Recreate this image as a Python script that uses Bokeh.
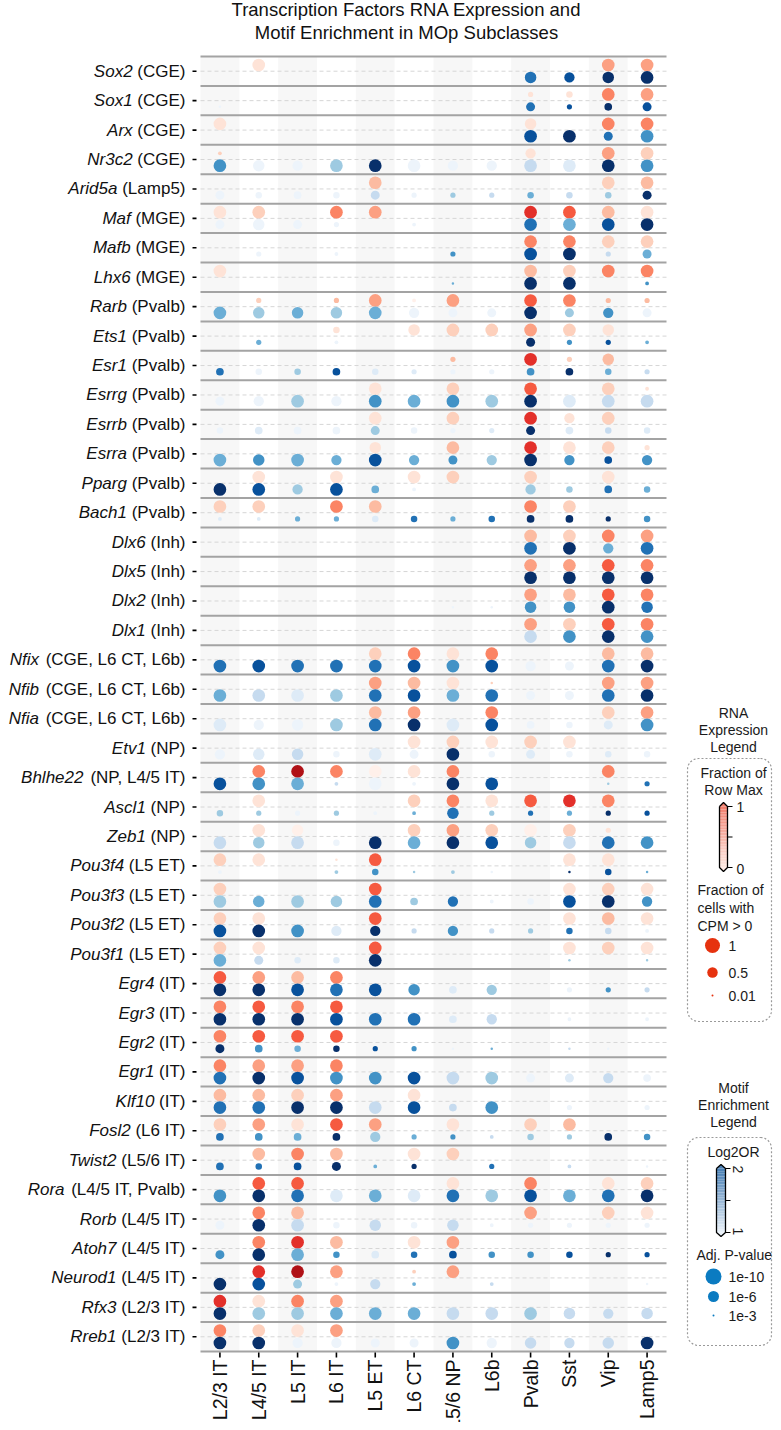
import math
from bokeh.plotting import figure
from bokeh.models import Range1d, ColumnDataSource, LinearColorMapper
from bokeh.layouts import row
from bokeh.embed import file_html
from bokeh.resources import INLINE
from bokeh.core.properties import value

# ---------------- data ----------------
subclasses = ["L2/3 IT", "L4/5 IT", "L5 IT", "L6 IT", "L5 ET", "L6 CT",
              "L5/6 NP", "L6b", "Pvalb", "Sst", "Vip", "Lamp5"]

genes = ["Sox2", "Sox1", "Arx", "Nr3c2", "Arid5a", "Maf", "Mafb", "Lhx6", "Rarb",
         "Ets1", "Esr1", "Esrrg", "Esrrb", "Esrra", "Pparg", "Bach1", "Dlx6", "Dlx5",
         "Dlx2", "Dlx1", "Nfix", "Nfib", "Nfia", "Etv1", "Bhlhe22", "Ascl1", "Zeb1",
         "Pou3f4", "Pou3f3", "Pou3f2", "Pou3f1", "Egr4", "Egr3", "Egr2", "Egr1",
         "Klf10", "Fosl2", "Twist2", "Rora", "Rorb", "Atoh7", "Neurod1", "Rfx3", "Rreb1"]

groups = ["CGE", "CGE", "CGE", "CGE", "Lamp5", "MGE", "MGE", "MGE", "Pvalb",
          "Pvalb", "Pvalb", "Pvalb", "Pvalb", "Pvalb", "Pvalb", "Pvalb", "Inh", "Inh",
          "Inh", "Inh", "CGE, L6 CT, L6b", "CGE, L6 CT, L6b", "CGE, L6 CT, L6b", "NP",
          "NP, L4/5 IT", "NP", "NP", "L5 ET", "L5 ET", "L5 ET", "L5 ET", "IT", "IT",
          "IT", "IT", "IT", "L6 IT", "L5/6 IT", "L4/5 IT, Pvalb", "L4/5 IT", "L4/5 IT",
          "L4/5 IT", "L2/3 IT", "L2/3 IT"]

# RNA: fraction of row max (binned 0-9)
rna_rowmax = [
    [0,2,0,0,0,0,0,0,0,0,5,5], [0,0,0,0,0,0,0,0,2,2,6,5], [2,0,0,0,0,0,0,0,2,0,6,6],
    [3,0,0,0,0,0,0,0,2,0,5,3], [0,0,0,0,4,0,0,0,0,0,3,4], [2,3,0,6,5,0,0,0,8,7,4,2],
    [0,0,0,0,0,0,0,0,6,6,3,3], [2,0,0,0,0,0,0,0,4,3,6,6], [0,3,0,4,5,1,5,0,7,6,4,4],
    [0,0,0,2,0,2,3,3,5,3,2,0], [0,0,0,0,0,0,4,0,8,3,4,0], [0,0,0,0,2,0,3,0,7,0,3,2],
    [0,0,0,0,2,0,3,0,8,2,3,0], [0,0,0,0,2,0,4,0,8,2,3,2], [0,2,0,2,0,2,3,0,3,0,2,0],
    [3,3,0,6,4,0,0,0,6,3,0,0], [0,0,0,0,0,0,0,0,4,3,6,5], [0,0,0,0,0,0,0,0,5,5,7,6],
    [0,0,0,0,0,0,0,0,5,4,7,6], [0,0,0,0,0,0,0,0,5,3,7,6], [0,0,0,0,3,6,2,6,0,0,4,4],
    [0,0,0,0,5,4,2,3,0,0,5,5], [0,0,0,0,4,5,0,6,0,0,3,5], [0,0,0,0,0,2,3,2,3,2,0,0],
    [0,6,9,6,1,2,6,0,0,0,6,0], [0,2,0,0,0,3,6,2,7,8,6,0], [0,2,1,0,0,3,5,3,1,3,2,0],
    [3,2,0,2,7,0,0,0,0,2,2,0], [3,0,0,0,7,0,0,0,0,2,3,2], [3,2,0,0,7,0,0,0,0,2,4,2],
    [3,2,0,0,7,0,0,0,0,2,3,2], [7,5,4,6,0,0,0,0,0,0,0,0], [6,7,6,7,0,0,0,0,0,0,0,0],
    [6,7,7,7,0,0,0,0,0,0,0,0], [6,5,5,6,0,0,0,0,0,0,0,0], [4,4,3,5,0,2,0,0,0,0,0,0],
    [3,5,2,7,5,0,2,0,3,4,0,0], [0,4,6,4,0,2,3,0,0,0,0,0], [0,7,7,0,0,0,2,0,6,0,2,3],
    [0,6,4,0,0,0,0,0,5,0,3,2], [0,6,8,4,0,2,5,0,0,0,0,0], [0,8,9,5,0,3,5,0,0,0,0,0],
    [8,2,6,5,0,0,0,0,0,0,0,0], [6,3,2,5,0,0,0,0,0,0,0,0],
]

# RNA: fraction of cells with CPM > 0 (binned 0-9)
rna_frac = [
    [0,9,0,0,0,0,0,0,0,0,9,9], [0,0,0,0,0,0,0,0,3,4,9,9], [9,0,0,0,0,0,0,0,8,0,9,9],
    [2,0,0,0,0,0,0,0,7,0,9,9], [0,0,0,0,9,0,0,0,0,0,9,9], [9,9,0,9,9,0,0,0,9,9,9,9],
    [0,0,0,0,0,0,0,0,9,9,9,9], [9,0,0,0,0,0,0,0,9,9,9,9], [0,3,0,3,9,2,9,0,9,9,3,3],
    [0,0,0,4,0,8,9,9,9,9,8,0], [0,0,0,0,0,0,3,0,9,3,8,0], [0,0,0,0,9,0,9,0,9,0,9,2],
    [0,0,0,0,9,0,9,0,9,7,9,0], [0,0,0,0,8,0,9,0,9,9,9,3], [0,9,0,9,0,9,9,0,9,0,9,0],
    [9,9,0,9,9,0,0,0,9,9,0,0], [0,0,0,0,0,0,0,0,9,9,9,9], [0,0,0,0,0,0,0,0,9,9,9,9],
    [0,0,0,0,0,0,0,0,9,9,9,9], [0,0,0,0,0,0,0,0,9,9,9,9], [0,0,0,0,9,9,9,9,0,0,9,9],
    [0,0,0,0,9,9,9,1,0,0,9,9], [0,0,0,0,9,9,0,9,0,0,9,9], [0,0,0,0,0,9,9,9,9,9,0,0],
    [0,9,9,9,9,9,9,0,0,0,9,0], [0,9,0,0,0,9,9,9,9,9,9,0], [0,9,8,0,0,9,9,9,9,9,3,0],
    [9,9,0,1,9,0,0,0,0,9,9,0], [9,0,0,0,9,0,0,0,0,9,9,9], [9,9,0,0,9,0,0,0,0,9,9,9],
    [9,9,0,0,9,0,0,0,0,9,9,9], [9,9,9,9,0,0,0,0,0,0,0,0], [9,9,9,9,0,0,0,0,0,0,0,0],
    [9,9,9,9,0,0,0,0,0,0,0,0], [9,9,9,9,0,0,0,0,0,0,0,0], [9,9,9,9,0,9,0,0,0,0,0,0],
    [9,9,9,9,9,0,9,0,9,9,0,0], [0,9,9,9,0,9,9,0,0,0,0,0], [0,9,9,0,0,0,9,0,9,0,9,9],
    [0,9,9,0,0,0,0,0,9,0,9,9], [0,9,9,9,0,9,9,0,0,0,0,0], [0,9,9,9,0,2,9,0,0,0,0,0],
    [9,9,9,9,0,0,0,0,0,0,0,0], [9,9,9,9,0,0,0,0,0,0,0,0],
]

# Motif: Log2OR (binned 0-9)
motif_log2or = [
    [0,0,0,0,0,0,0,0,7,8,9,9], [1,0,0,0,0,0,0,0,7,8,9,8], [0,0,0,0,0,0,0,0,8,9,7,6],
    [6,1,1,4,9,1,1,1,3,2,9,6], [1,1,1,1,3,1,4,3,5,3,4,9], [1,1,1,1,0,1,0,0,7,5,8,9],
    [0,1,0,1,0,0,6,0,8,9,3,5], [0,0,0,0,0,0,5,0,9,9,0,6], [5,4,5,4,5,1,1,1,9,4,6,1],
    [0,5,0,1,0,0,0,0,9,6,8,5], [7,1,4,8,2,2,1,1,6,9,5,3], [1,1,4,1,6,5,6,4,9,2,3,3],
    [1,2,1,1,4,1,1,2,9,2,3,2], [5,6,5,5,8,5,6,4,9,6,8,6], [9,8,4,8,5,1,0,0,4,4,7,5],
    [2,2,5,5,2,7,5,7,9,9,9,6], [0,0,0,0,0,0,0,0,7,9,5,7], [0,0,0,0,0,0,0,0,9,9,9,9],
    [0,0,0,0,0,0,1,1,6,6,9,7], [0,0,0,0,0,0,0,0,3,6,9,6], [7,8,7,7,7,8,6,8,1,1,7,9],
    [5,3,2,4,7,8,5,7,1,1,7,9], [2,1,1,4,7,9,2,8,1,1,2,6], [1,2,3,1,2,1,9,1,2,1,2,1],
    [8,6,5,3,1,1,9,8,0,0,4,7], [4,4,1,4,1,5,7,4,7,5,9,8], [3,4,3,1,9,5,9,8,4,3,7,6],
    [1,0,0,4,6,4,4,1,0,9,8,5], [4,5,4,4,7,4,7,1,1,8,9,6], [8,9,6,2,9,3,6,3,4,7,3,1],
    [5,3,2,2,9,0,0,0,0,4,0,4], [9,9,8,7,8,6,2,4,0,1,6,3], [9,9,9,8,7,7,2,3,0,1,0,1],
    [9,6,5,9,8,6,1,5,0,3,1,0], [7,9,8,6,6,8,3,4,1,2,3,1], [7,7,9,9,3,8,3,6,0,1,0,1],
    [7,6,5,9,4,5,6,3,4,4,9,6], [7,7,8,9,5,9,0,7,0,3,0,1], [6,9,7,2,5,2,7,4,8,5,7,9],
    [1,9,3,1,3,1,3,1,1,1,1,1], [6,9,5,6,2,7,8,6,6,8,9,8], [9,8,4,1,3,5,0,3,0,0,0,1],
    [9,4,4,5,5,5,3,3,4,3,3,3], [9,9,1,1,1,1,6,1,3,3,3,9],
]

# Motif: adjusted p-value significance (binned 0-9)
motif_pval = [
    [0,0,0,0,0,0,0,0,8,7,8,9], [1,0,0,0,0,0,0,0,6,3,5,6], [0,0,0,0,0,0,0,0,9,9,6,9],
    [9,8,7,9,9,9,7,7,9,9,9,9], [6,4,5,4,6,3,3,3,4,4,4,6], [6,8,6,3,0,2,0,0,9,9,9,9],
    [0,3,0,2,0,0,3,0,9,9,3,6], [0,0,0,0,0,0,1,0,9,9,0,2], [9,8,8,8,9,7,6,6,9,6,7,6],
    [0,3,0,2,0,0,0,0,6,3,3,2], [5,4,4,5,4,3,3,3,5,5,4,3], [6,7,9,7,9,9,9,9,9,9,9,9],
    [4,5,5,5,6,4,3,3,6,5,4,4], [9,8,9,7,9,7,6,7,9,7,5,7], [9,9,7,9,5,2,0,0,7,4,5,4],
    [2,2,3,3,4,4,3,4,5,5,3,4], [0,0,0,0,0,0,0,0,9,9,7,9], [0,0,0,0,0,0,0,0,9,9,9,9],
    [0,0,0,0,0,0,1,1,8,8,9,8], [0,0,0,0,0,0,0,0,9,9,9,9], [9,9,9,9,9,9,9,9,7,6,9,9],
    [9,9,9,9,9,9,9,9,6,6,9,9], [9,7,8,9,9,9,9,9,5,4,6,9], [7,8,8,4,9,6,9,4,6,4,4,4],
    [9,9,9,2,9,2,9,9,0,0,1,3], [4,3,3,3,2,2,8,3,3,3,3,3], [9,8,9,4,9,9,9,9,8,9,9,9],
    [2,0,0,2,4,1,2,1,0,1,4,1], [9,8,9,8,9,5,7,2,4,9,9,7], [9,9,9,7,7,3,7,3,3,4,4,2],
    [9,6,4,4,9,0,0,0,0,1,0,1], [9,9,9,9,9,8,5,7,0,3,3,3], [9,9,9,9,9,9,5,7,0,2,0,2],
    [6,5,4,4,3,3,1,1,0,1,1,0], [9,9,9,9,9,9,9,9,6,6,7,5], [9,9,9,9,9,9,5,9,0,3,0,3],
    [5,5,5,5,7,3,3,2,4,3,5,4], [5,4,5,6,2,3,0,3,0,2,0,1], [9,9,9,9,9,9,9,9,9,9,9,9],
    [6,9,9,4,8,4,8,2,3,3,3,3], [6,9,9,4,5,4,5,4,4,4,3,3], [9,9,6,2,7,2,0,2,0,0,0,1],
    [9,9,9,9,9,9,9,9,9,8,7,8], [9,9,7,7,6,6,9,7,8,7,8,9],
]

# ---------------- style ----------------
FONT = "Liberation Sans"
TXT = "#111111"
REDS = ["#ffffff", "#fff0ea", "#fee3d7", "#fdd0bc", "#fcbba1", "#fca082",
        "#fb8464", "#f65a40", "#e3302a", "#b01116"]
BLUES = ["#ffffff", "#edf4fb", "#deebf7", "#c6dbef", "#9ecae1", "#6baed6",
         "#4292c6", "#2171b5", "#08519c", "#08306b"]
SIZE_PX = [0, 2.5, 3.8, 5.2, 6.5, 7.7, 9.0, 10.3, 11.5, 12.7]

NROW = len(genes)
NCOL = len(subclasses)

# main canvas 676 x 1422; matrix area at canvas x 200..666, y 56..1351
W, H = 676, 1422
FL, FR, FT, FB = 200, 666, 56, 1351
COL_PX = (FR - FL) / NCOL
ROW_PX = (FB - FT) / NROW
x_lo = -0.5 - FL / COL_PX
x_hi = -0.5 + (W - FL) / COL_PX
y_top = -FT / ROW_PX
y_bot = NROW + (H - FB) / ROW_PX

p = figure(width=W, height=H, x_range=Range1d(x_lo, x_hi), y_range=Range1d(y_bot, y_top),
           output_backend="svg", toolbar_location=None, min_border=0,
           x_axis_location=None, y_axis_location=None)
p.grid.visible = False
p.outline_line_color = None
p.background_fill_color = "white"

def px_x(dx):
    return dx / COL_PX

def px_y(dy):
    return dy / ROW_PX

# alternating column shading
shade = [j for j in range(NCOL) if j % 2 == 0]
p.quad(left=[j - 0.5 for j in shade], right=[j + 0.5 for j in shade],
       top=[0] * len(shade), bottom=[NROW] * len(shade),
       fill_color="#f7f7f7", line_color=None)

# dashed centre lines and row separators
p.segment(x0=[-0.5] * NROW, x1=[NCOL - 0.5] * NROW,
          y0=[i + 0.5 for i in range(NROW)], y1=[i + 0.5 for i in range(NROW)],
          line_color="#d6d6d6", line_width=1, line_dash="4 3")
p.segment(x0=[-0.5] * (NROW + 1), x1=[NCOL - 0.5] * (NROW + 1),
          y0=list(range(NROW + 1)), y1=list(range(NROW + 1)),
          line_color="#a3a3a3", line_width=2)

def dots(levels, sizes, dy):
    xs, ys, lv, sz = [], [], [], []
    for i in range(NROW):
        for j in range(NCOL):
            if levels[i][j] > 0 and sizes[i][j] > 0:
                xs.append(j)
                ys.append(i + 0.5 + dy)
                lv.append(levels[i][j])
                sz.append(SIZE_PX[sizes[i][j]])
    return ColumnDataSource(dict(x=xs, y=ys, lv=lv, sz=sz))

red_map = LinearColorMapper(palette=REDS, low=-0.5, high=9.5)
blue_map = LinearColorMapper(palette=BLUES, low=-0.5, high=9.5)
off = px_y(6.2)
p.scatter("x", "y", source=dots(rna_rowmax, rna_frac, -off), size="sz",
          fill_color={"field": "lv", "transform": red_map}, line_color=None)
p.scatter("x", "y", source=dots(motif_log2or, motif_pval, off), size="sz",
          fill_color={"field": "lv", "transform": blue_map}, line_color=None)

# tick marks
rows_c = [i + 0.5 for i in range(NROW)]
p.segment(x0=[-0.5 - px_x(8)] * NROW, x1=[-0.5 - px_x(4)] * NROW, y0=rows_c, y1=rows_c,
          line_color="black", line_width=1.6)
p.segment(x0=list(range(NCOL)), x1=list(range(NCOL)), y0=[NROW + px_y(1)] * NCOL,
          y1=[NROW + px_y(6)] * NCOL, line_color="black", line_width=1.6)

# y labels: italic gene + regular group
CW = {'(': 333, ')': 333, ' ': 278, ',': 278, '/': 278, 'C': 722, 'G': 778, 'E': 667,
      'L': 556, 'M': 833, 'P': 667, 'I': 278, 'T': 611, 'N': 722, 'a': 556, 'm': 833,
      'p': 556, 'v': 500, 'l': 222, 'b': 556, 'n': 556, 'h': 556}

def text_w(s, fs):
    return sum(CW.get(c, 556) for c in s) * fs / 1000.0

YFS = 17
normals = ["(" + g + ")" for g in groups]
end_x = -0.5 - px_x(15)
p.text(x=[end_x] * NROW, y=rows_c, text=normals, text_align="right",
       text_baseline="middle", text_font=value(FONT), text_font_size=f"{YFS}px",
       text_color=TXT)
p.text(x=[end_x - px_x(text_w(" " + n, YFS)) for n in normals], y=rows_c, text=genes,
       text_align="right", text_baseline="middle", text_font=value(FONT),
       text_font_style="italic", text_font_size=f"{YFS}px", text_color=TXT)

# x labels (rotated)
p.text(x=list(range(NCOL)), y=[NROW + px_y(8)] * NCOL, text=subclasses,
       angle=math.pi / 2, text_align="right", text_baseline="middle",
       text_font=value(FONT), text_font_size="19.5px", text_color=TXT)

# title
tx = -0.5 + px_x(414 - 8 - FL)
p.text(x=[tx, tx], y=[-px_y(FT - 9), -px_y(FT - 32)],
       text=["Transcription Factors RNA Expression and", "Motif Enrichment in MOp Subclasses"],
       text_align="center", text_baseline="middle", text_font=value(FONT),
       text_font_size="18.5px", text_color=TXT)

# ---------------- legend panel (page pixel coordinates) ----------------
leg = figure(width=97, height=1422, x_range=Range1d(684, 781), y_range=Range1d(1430, 8),
             output_backend="svg", toolbar_location=None, min_border=0,
             x_axis_location=None, y_axis_location=None)
leg.grid.visible = False
leg.outline_line_color = None

def ltext(x, y, t, align="center", angle=0.0, size="14px"):
    leg.text(x=[x], y=[y], text=[t], text_align=align, text_baseline="middle",
             text_font=value(FONT), text_font_size=size, text_color="#1a1a1a", angle=angle)

def rbox(x0, x1, y0, y1, r):
    xs, ys = [], []
    corners = [(x1 - r, y0 + r, -90, 0), (x1 - r, y1 - r, 0, 90),
               (x0 + r, y1 - r, 90, 180), (x0 + r, y0 + r, 180, 270)]
    for cx, cy, a0, a1 in corners:
        for k in range(9):
            a = math.radians(a0 + (a1 - a0) * k / 8)
            xs.append(cx + r * math.cos(a))
            ys.append(cy + r * math.sin(a))
    xs.append(xs[0]); ys.append(ys[0])
    leg.line(xs, ys, line_color="#9a9a9a", line_width=1.2, line_dash="2 2")

def hexmix(c0, c1, t):
    a = [int(c0[k:k + 2], 16) for k in (1, 3, 5)]
    b = [int(c1[k:k + 2], 16) for k in (1, 3, 5)]
    return "#" + "".join(f"{round(a[k] + (b[k] - a[k]) * t):02x}" for k in range(3))

def cbar(x0, x1, ytop, ybot, ctop, cbot, tip=4):
    n = 40
    h = (ybot - ytop) / n
    tops = [ytop + h * k for k in range(n)]
    leg.quad(left=[x0] * n, right=[x1] * n, top=tops, bottom=[t + h for t in tops],
             fill_color=[hexmix(ctop, cbot, k / (n - 1)) for k in range(n)], line_color=None)
    xc = (x0 + x1) / 2
    leg.patch([x0, xc, x1], [ytop, ytop - tip, ytop], fill_color=ctop, line_color=None)
    leg.patch([x0, xc, x1], [ybot, ybot + tip, ybot], fill_color=cbot, line_color=None)
    leg.line([x0, x0, xc, x1, x1, xc, x0], [ytop, ybot, ybot + tip, ybot, ytop, ytop - tip, ytop],
             line_color="black", line_width=1.3)
    ym = (ytop + ybot) / 2
    leg.segment(x0=[x1] * 3, x1=[x1 + 5] * 3, y0=[ytop, ym, ybot], y1=[ytop, ym, ybot],
                line_color="black", line_width=1.2)

# RNA legend
for k, t in enumerate(["RNA", "Expression", "Legend"]):
    ltext(741, 720 + 17 * k, t)
rbox(695, 779, 766, 1029, 11)
ltext(741, 780, "Fraction of")
ltext(741, 797, "Row Max")
cbar(727, 735, 814, 875, "#f2806f", "#fde8e1")
ltext(744, 814, "1", align="left")
ltext(744, 876, "0", align="left")
for k, t in enumerate(["Fraction of", "cells with", "CPM > 0"]):
    ltext(705, 897 + 18 * k, t, align="left")
leg.scatter(x=[720, 720, 720], y=[953, 980, 1003], size=[15, 10.5, 2],
            fill_color="#e6320f", line_color=None)
for y, t in zip([953, 980, 1003], ["1", "0.5", "0.01"]):
    ltext(736, y, t, align="left")

# Motif legend
for k, t in enumerate(["Motif", "Enrichment", "Legend"]):
    ltext(741, 1095 + 17 * k, t)
rbox(695, 779, 1145, 1353, 11)
ltext(741, 1159, "Log2OR")
cbar(724, 733, 1176, 1240, "#4a80b5", "#e8f0f8")
ltext(745, 1177, "2", angle=-math.pi / 2)
ltext(745, 1239, "1", angle=-math.pi / 2)
ltext(704, 1262, "Adj. P-value", align="left")
leg.scatter(x=[721, 721, 721], y=[1284, 1304, 1323], size=[16, 11, 2],
            fill_color="#0b7bc1", line_color=None)
for y, t in zip([1284, 1304, 1323], ["1e-10", "1e-6", "1e-3"]):
    ltext(736, y, t, align="left")

layout = row(p, leg)
open("out.html", "w").write(file_html(layout, INLINE))
